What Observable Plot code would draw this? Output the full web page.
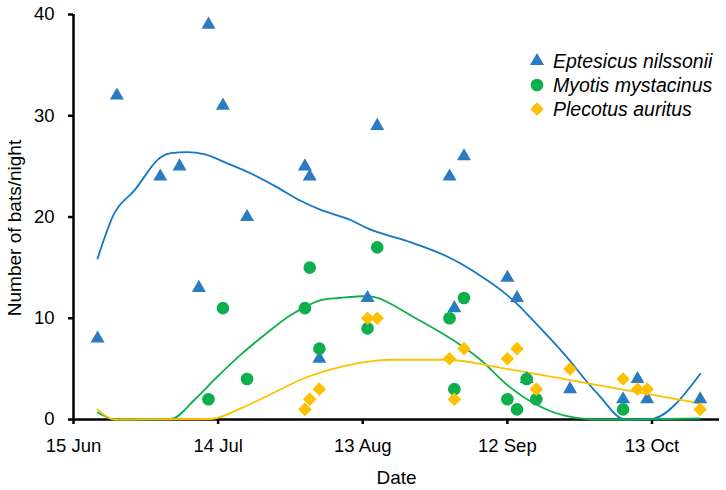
<!DOCTYPE html>
<html>
<head>
<meta charset="utf-8">
<script src="https://cdn.jsdelivr.net/npm/d3@7"></script>
<script src="https://cdn.jsdelivr.net/npm/@observablehq/plot@0.6"></script>
<style>
  body { margin: 0; background: #fff; }
  #chart { position: relative; width: 726px; height: 490px; font-family: Arial, "Liberation Sans", sans-serif; }
  #overlay { position: absolute; left: 0; top: 0; pointer-events: none; }
  #chart svg [aria-label="x-axis tick"], #chart svg [aria-label="y-axis tick"] { stroke-width: 2.5px; }
  #chart svg [aria-label="x-axis label"] { font-size: 19px; }
</style>
</head>
<body>
<div id="chart"></div>
<script>
// Survey nights, counted in days after 15 June
const dayTicks = [0, 30, 60, 90, 120];
const dayTickLabels = ["15 Jun", "14 Jul", "13 Aug", "12 Sep", "13 Oct"];
const batTicks = [0, 10, 20, 30, 40];

const species = ["Eptesicus nilssonii", "Myotis mystacinus", "Plecotus auritus"];
const yTitle = "Number of bats/night";

// Nightly counts per species
const eptesicusDay  = [5, 9, 18, 22, 26, 28, 31, 36, 48, 49, 51, 61, 63, 78, 79, 81, 90, 92, 94, 103, 114, 117, 119, 130];
const eptesicusBats = [8, 32, 24, 25, 13, 39, 31, 20, 25, 24, 6, 12, 29, 24, 11, 26, 14, 12, 4, 3, 2, 4, 2, 2];

const myotisDay  = [28, 31, 36, 48, 49, 51, 61, 63, 78, 79, 81, 90, 92, 94, 96, 114];
const myotisBats = [2, 11, 4, 11, 15, 7, 9, 17, 10, 3, 12, 2, 1, 4, 2, 1];

const plecotusDay  = [48, 49, 51, 61, 63, 78, 79, 81, 90, 92, 96, 103, 114, 117, 119, 130];
const plecotusBats = [1, 2, 3, 10, 10, 6, 2, 7, 6, 7, 3, 5, 4, 3, 3, 1];

// Smoothed seasonal trend per species
const eptesicusTrendDay = [5, 8.4, 12.6, 18.1, 20.2, 23.6, 27.1, 31.9, 36.8, 42, 47.1, 51.3, 57.5, 60.9, 70, 77.5, 80.3, 84.4, 88.6, 92.7, 94.7, 101.7, 108.6, 114.5, 119.3, 130];
const eptesicusTrend    = [15.9, 20.3, 22.6, 25.9, 26.3, 26.4, 26.2, 25.3, 24.3, 23.0, 21.6, 20.7, 19.7, 18.9, 17.5, 16.1, 15.4, 14.2, 12.8, 11.1, 10.1, 6.5, 2.6, 0, 0, 4.5];

const myotisTrendDay = [5, 8.8, 20.2, 25, 29.8, 34.7, 40, 45, 48, 51.3, 55, 60.9, 62.3, 70.6, 78.2, 84.4, 90, 95.5, 101.7, 108.6, 130];
const myotisTrend    = [0.7, 0, 0.05, 1.9, 4.2, 6.4, 8.5, 10.3, 11.1, 11.8, 12.0, 12.2, 12.1, 10.1, 8.0, 5.9, 3.4, 1.6, 0.4, 0, 0.1];

const plecotusTrendDay = [5, 8.4, 28.5, 34.7, 38.8, 48.5, 55.4, 62.3, 66, 77.5, 88.6, 107, 130];
const plecotusTrend    = [1.0, 0, 0.05, 1.1, 2.0, 4.2, 5.2, 5.8, 5.9, 5.9, 5.1, 3.55, 1.6];

const colors = {
  eptesicusDot: "#2B7BC2", eptesicusLine: "#1277C4",
  myotisDot: "#0DAF4C", myotisLine: "#0DAF4C",
  plecotusDot: "#FFC000", plecotusLine: "#FFC000"
};

const rows = (days, vals) => days.map((d, i) => ({day: d, bats: vals[i]}));

const eptesicus = rows(eptesicusDay, eptesicusBats);
const myotis = rows(myotisDay, myotisBats);
const plecotus = rows(plecotusDay, plecotusBats);
const eptesicusLine = rows(eptesicusTrendDay, eptesicusTrend);
const myotisLine = rows(myotisTrendDay, myotisTrend);
const plecotusLine = rows(plecotusTrendDay, plecotusTrend);

const symbolR = {triangle: 5.2, circle: 6.3, diamond2: 6.1};
const fontFamily = 'Arial, "Liberation Sans", sans-serif';

const chart = Plot.plot({
  width: 726,
  height: 490,
  marginLeft: 73,
  marginRight: 7,
  marginTop: 14,
  marginBottom: 71,
  style: {fontFamily, fontSize: "18.5px", color: "#000", background: "#fff"},
  x: {
    domain: [0, 134],
    ticks: dayTicks,
    tickFormat: d => dayTickLabels[dayTicks.indexOf(d)],
    tickSize: 5,
    tickPadding: 14,
    label: "Date",
    labelAnchor: "center",
    labelOffset: 64,
    labelArrow: "none"
  },
  y: {
    domain: [0, 40],
    ticks: batTicks,
    tickSize: 5,
    tickPadding: 14,
    label: null
  },
  marks: [
    Plot.ruleY([0], {stroke: "#000", strokeWidth: 2.5}),
    Plot.ruleX([0], {stroke: "#000", strokeWidth: 2.5}),
    Plot.line(eptesicusLine, {x: "day", y: "bats", stroke: colors.eptesicusLine, strokeWidth: 1.8, curve: "monotone-x"}),
    Plot.line(myotisLine, {x: "day", y: "bats", stroke: colors.myotisLine, strokeWidth: 1.8, curve: "monotone-x"}),
    Plot.line(plecotusLine, {x: "day", y: "bats", stroke: colors.plecotusLine, strokeWidth: 1.8, curve: "monotone-x"}),
    Plot.dot(eptesicus, {x: "day", y: "bats", symbol: "triangle", r: symbolR.triangle, fill: colors.eptesicusDot, stroke: "none"}),
    Plot.dot(myotis, {x: "day", y: "bats", symbol: "circle", r: symbolR.circle, fill: colors.myotisDot, stroke: "none"}),
    Plot.dot(plecotus, {x: "day", y: "bats", symbol: "diamond2", r: symbolR.diamond2, fill: colors.plecotusDot, stroke: "none"})
  ]
});

const host = document.getElementById("chart");
host.appendChild(chart);

const overlay = d3.select(host).append("svg")
  .attr("id", "overlay").attr("width", 726).attr("height", 490)
  .attr("font-family", fontFamily);

// Vertical axis title, set slightly below the middle of the axis
overlay.append("text")
  .attr("transform", "translate(21,228) rotate(-90)")
  .attr("text-anchor", "middle")
  .attr("font-size", 19)
  .text(yTitle);

// Legend in the upper right of the plotting area
const legendItems = [
  {name: species[0], symbol: d3.symbolTriangle, r: symbolR.triangle, color: colors.eptesicusDot},
  {name: species[1], symbol: d3.symbolCircle, r: symbolR.circle, color: colors.myotisDot},
  {name: species[2], symbol: d3.symbolDiamond2, r: symbolR.diamond2, color: colors.plecotusDot}
];
const item = overlay.selectAll("g.key").data(legendItems).join("g")
  .attr("class", "key")
  .attr("transform", (d, i) => `translate(537,${61 + i * 24})`);
item.append("path")
  .attr("d", d => d3.symbol(d.symbol, Math.PI * d.r * d.r)())
  .attr("fill", d => d.color);
item.append("text")
  .attr("x", 16)
  .attr("dy", "0.35em")
  .attr("font-size", 19.5)
  .attr("font-style", "italic")
  .text(d => d.name);
</script>
</body>
</html>
